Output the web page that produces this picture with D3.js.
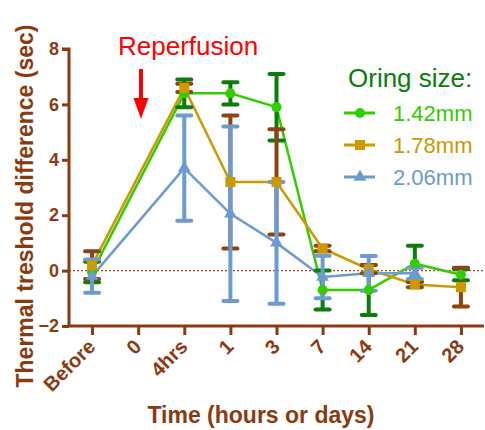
<!DOCTYPE html>
<html>
<head>
<meta charset="utf-8">
<script src="https://cdn.jsdelivr.net/npm/d3@7"></script>
<style>
  body { margin: 0; background: #fff; }
  text { font-family: "Liberation Sans", Arial, sans-serif; }
</style>
</head>
<body>
<svg id="chart" width="485" height="430"></svg>
<script>
// categories on the x axis
var categories = ["Before", "0", "4hrs", "1", "3", "7", "14", "21", "28"];
var yTicks = [-2, 0, 2, 4, 6, 8];
var seriesNames = ["1.42mm", "1.78mm", "2.06mm"];

// means (null = no point)
var mean142 = [-0.05, null, 6.4, 6.4, 5.9, -0.7, -0.7, 0.25, -0.15];
var mean178 = [0.2, null, 6.6, 3.2, 3.2, 0.8, 0.05, -0.5, -0.6];
var mean206 = [-0.2, null, 3.7, 2.05, 1.0, -0.23, -0.1, -0.1, null];
// error (SEM)
var err142 = [0.37, null, 0.5, 0.4, 1.2, 0.7, 0.9, 0.65, 0.2];
var err178 = [0.5, null, 0.15, 2.4, 1.9, 0.1, 0.15, 0.1, 0.7];
var err206 = [0.6, null, 1.9, 3.15, 2.2, 0.77, 0.63, 0.2, null];

var AXIS_COLOR = "#8b3a0f";
var series = [
    {name: seriesNames[0], mean: mean142, err: err142, color: "#33cc00", errColor: "#0a7d0a", symbol: d3.symbolCircle, size: 80},
    {name: seriesNames[1], mean: mean178, err: err178, color: "#cc9900", errColor: "#8b4513", symbol: d3.symbolSquare, size: 100},
    {name: seriesNames[2], mean: mean206, err: err206, color: "#6b9bd1", errColor: "#6b9bd1", symbol: d3.symbolTriangle, size: 70}
];

var svg = d3.select("#chart");
var x = d3.scalePoint().domain(categories).range([69, 484]).padding(0.5);
var y = d3.scaleLinear().domain([-2, 8]).range([326, 49]);

// zero line
svg.append("line")
    .attr("x1", 69).attr("x2", 484)
    .attr("y1", y(0)).attr("y2", y(0))
    .attr("stroke", "#c0400a").attr("stroke-width", 1.2)
    .attr("stroke-dasharray", "2,2");

// y axis
var yAxis = svg.append("g").attr("transform", "translate(69,0)")
    .call(d3.axisLeft(y).tickValues(yTicks).tickSize(7).tickPadding(3).tickFormat(d3.format("d")));
// x axis
var xAxis = svg.append("g").attr("transform", "translate(0,326)")
    .call(d3.axisBottom(x).tickSize(9).tickSizeOuter(0));

[yAxis, xAxis].forEach(function (ax) {
    ax.select(".domain").attr("stroke", AXIS_COLOR).attr("stroke-width", 3);
    ax.selectAll(".tick line").attr("stroke", AXIS_COLOR).attr("stroke-width", 3);
    ax.selectAll(".tick text").attr("fill", AXIS_COLOR)
        .style("font-weight", "bold")
        .style("font-family", "'Liberation Sans', Arial, sans-serif");
});
yAxis.selectAll(".tick text").style("font-size", "18px");
xAxis.selectAll(".tick text").style("font-size", "20px");
yAxis.select(".domain").attr("d", "M-7," + y(8) + "H0V" + y(-2));
xAxis.select(".domain").attr("d", "M69,0H484");
xAxis.selectAll(".tick text")
    .attr("text-anchor", "end")
    .attr("dy", null)
    .attr("transform", "translate(4,22) rotate(-45)")
    .attr("y", 0).attr("x", 0);

// axis titles
svg.append("text")
    .attr("x", 261).attr("y", 423)
    .attr("text-anchor", "middle")
    .attr("fill", AXIS_COLOR)
    .style("font-size", "23px").style("font-weight", "bold")
    .text("Time (hours or days)");
svg.append("text")
    .attr("transform", "translate(33,206) rotate(-90)")
    .attr("text-anchor", "middle")
    .attr("fill", AXIS_COLOR)
    .style("font-size", "23px").style("font-weight", "bold")
    .text("Thermal treshold difference (sec)");

// reperfusion label + arrow
svg.append("text")
    .attr("x", 118).attr("y", 55)
    .attr("fill", "#ff0000")
    .style("font-size", "26px")
    .text("Reperfusion");
svg.append("line")
    .attr("x1", 141).attr("x2", 141).attr("y1", 69).attr("y2", 100)
    .attr("stroke", "#ff0000").attr("stroke-width", 4);
svg.append("path")
    .attr("d", "M133.5,98L148.5,98L141,119Z")
    .attr("fill", "#ff0000");

// lines, error bars, symbols
var line = d3.line()
    .defined(function (d) { return d.v !== null; })
    .x(function (d) { return x(d.c); })
    .y(function (d) { return y(d.v); });

function pts(s) {
    return categories.map(function (c, i) { return {c: c, v: s.mean[i], e: s.err[i]}; });
}

series.forEach(function (s) {
    var data = pts(s).filter(function (d) { return d.v !== null; });
    svg.append("path").datum(data)
        .attr("d", line)
        .attr("fill", "none")
        .attr("stroke", s.color).attr("stroke-width", 2.5);
});

series.forEach(function (s) {
    var data = pts(s).filter(function (d) { return d.v !== null && d.e !== null; });
    var g = svg.append("g").attr("stroke", s.errColor).attr("stroke-width", 4);
    g.selectAll(".bar").data(data).enter().append("line")
        .attr("x1", function (d) { return x(d.c); })
        .attr("x2", function (d) { return x(d.c); })
        .attr("y1", function (d) { return y(d.v + d.e); })
        .attr("y2", function (d) { return y(d.v - d.e); });
    g.selectAll(".capt").data(data).enter().append("line")
        .attr("x1", function (d) { return x(d.c) - 7; })
        .attr("x2", function (d) { return x(d.c) + 7; })
        .attr("y1", function (d) { return y(d.v + d.e); })
        .attr("y2", function (d) { return y(d.v + d.e); })
        .attr("stroke-linecap", "round");
    g.selectAll(".capb").data(data).enter().append("line")
        .attr("x1", function (d) { return x(d.c) - 7; })
        .attr("x2", function (d) { return x(d.c) + 7; })
        .attr("y1", function (d) { return y(d.v - d.e); })
        .attr("y2", function (d) { return y(d.v - d.e); })
        .attr("stroke-linecap", "round");
});

series.forEach(function (s) {
    var data = pts(s).filter(function (d) { return d.v !== null; });
    svg.append("g").selectAll("path").data(data).enter().append("path")
        .attr("d", d3.symbol().type(s.symbol).size(s.size))
        .attr("transform", function (d) { return "translate(" + x(d.c) + "," + y(d.v) + ")"; })
        .attr("fill", s.color);
});

// legend
svg.append("text")
    .attr("x", 348).attr("y", 87)
    .attr("fill", "#0a7d0a")
    .style("font-size", "26px")
    .text("Oring size:");
var leg = svg.append("g").selectAll("g").data(series).enter().append("g")
    .attr("transform", function (d, i) { return "translate(0," + (113 + i * 32) + ")"; });
leg.append("line")
    .attr("x1", 344).attr("x2", 375)
    .attr("stroke", function (d) { return d.color; }).attr("stroke-width", 3);
leg.append("path")
    .attr("d", function (d) { return d3.symbol().type(d.symbol).size(d.size)(); })
    .attr("transform", "translate(360,0)")
    .attr("fill", function (d) { return d.color; });
leg.append("text")
    .attr("x", 393).attr("y", 8)
    .attr("fill", function (d) { return d.color; })
    .style("font-size", "22px")
    .text(function (d) { return d.name; });
</script>
</body>
</html>
